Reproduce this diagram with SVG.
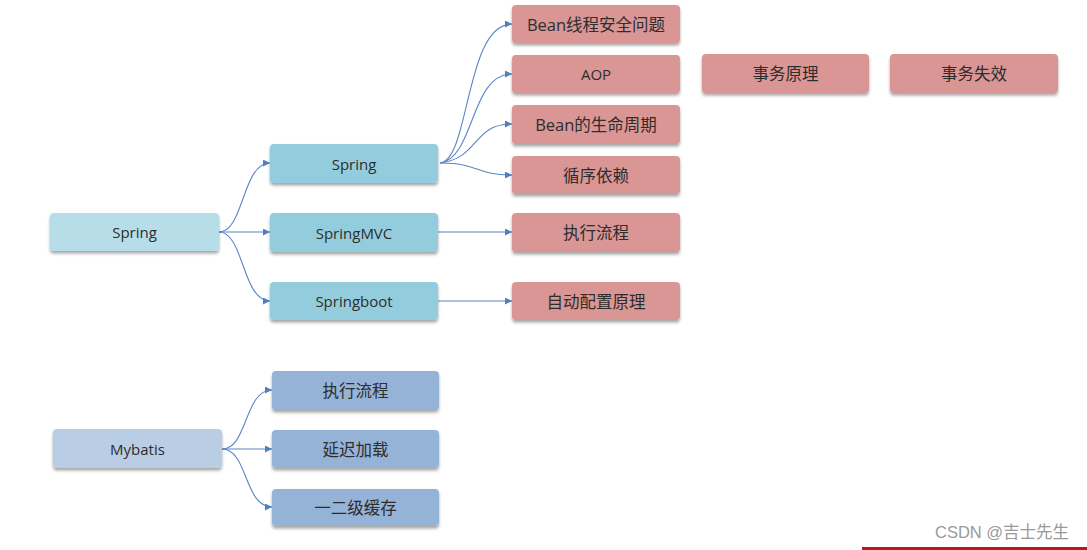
<svg xmlns="http://www.w3.org/2000/svg" width="1087" height="550" viewBox="0 0 1087 550">
  <defs>
    <filter id="sh" x="-10%" y="-20%" width="120%" height="160%">
      <feDropShadow dx="0" dy="2.5" stdDeviation="1.6" flood-color="#000" flood-opacity="0.35"/>
    </filter>
    <marker id="arr" viewBox="0 0 10 10" refX="10" refY="5" markerWidth="7" markerHeight="7" markerUnits="userSpaceOnUse" orient="auto">
      <path d="M0,0 L10,5 L0,10 z" fill="#4f7fc0"/>
    </marker>
  </defs>
  <style>
    .box { filter: url(#sh); }
    .root { fill: #b7dee8; }
    .mid { fill: #93cddd; }
    .red { fill: #da9694; }
    .mroot { fill: #b9cde5; }
    .mb { fill: #95b3d7; }
    text { font-family: "Open Sans", "Noto Sans CJK SC", sans-serif; font-size: 15px; text-anchor: middle; dominant-baseline: central; fill: #2d2d2d; }
    .zh { font-size: 16.5px; }
    .conn path { fill: none; stroke: #5a86c4; stroke-width: 1.1; marker-end: url(#arr); }
    .wm { font-family: "Liberation Sans", "Noto Sans CJK SC", sans-serif; font-size: 16.5px; fill: #9a9a9a; text-anchor: start; }
  </style>
  <rect width="1087" height="550" fill="#ffffff"/>

  <g id="connectors" class="conn">
    <path d="M219,232 C244,232 242,163 270,163"/>
    <path d="M219,232 L270,232"/>
    <path d="M219,232 C244,232 242,301 270,301"/>
    <path d="M440,163 C470,160 465,24 512,24"/>
    <path d="M440,163 C475,158 470,74 512,74"/>
    <path d="M440,163 C480,158 472,124 512,124"/>
    <path d="M440,163 C480,163 475,175 512,175"/>
    <path d="M438,232 L512,232"/>
    <path d="M438,301 L512,301"/>
    <path d="M222,449 C248,449 244,390 272,390"/>
    <path d="M222,449 L272,449"/>
    <path d="M222,449 C248,449 244,507 272,507"/>
  </g>

  <g id="spring-root"><rect class="box root" x="50" y="213" width="169" height="38" rx="4"/><text x="134.5" y="232">Spring</text></g>
  <g id="spring"><rect class="box mid" x="270" y="144" width="168" height="39" rx="4"/><text x="354" y="163.5">Spring</text></g>
  <g id="springmvc"><rect class="box mid" x="270" y="213" width="168" height="39" rx="4"/><text x="354" y="232.5">SpringMVC</text></g>
  <g id="springboot"><rect class="box mid" x="270" y="282" width="168" height="38" rx="4"/><text x="354" y="301">Springboot</text></g>

  <g id="bean-thread"><rect class="box red" x="512" y="5" width="168" height="38" rx="4"/><text class="zh" x="596" y="24">Bean线程安全问题</text></g>
  <g id="aop"><rect class="box red" x="512" y="55" width="168" height="38" rx="4"/><text x="596" y="74">AOP</text></g>
  <g id="tx-principle"><rect class="box red" x="702" y="54" width="167" height="39" rx="4"/><text class="zh" x="785.5" y="73.5">事务原理</text></g>
  <g id="tx-fail"><rect class="box red" x="890" y="54" width="168" height="39" rx="4"/><text class="zh" x="974" y="73.5">事务失效</text></g>
  <g id="bean-life"><rect class="box red" x="512" y="105" width="168" height="39" rx="4"/><text class="zh" x="596" y="124.5">Bean的生命周期</text></g>
  <g id="circular"><rect class="box red" x="512" y="156" width="168" height="38" rx="4"/><text class="zh" x="596" y="175">循序依赖</text></g>
  <g id="mvc-flow"><rect class="box red" x="512" y="213" width="168" height="39" rx="4"/><text class="zh" x="596" y="232.5">执行流程</text></g>
  <g id="autoconfig"><rect class="box red" x="512" y="282" width="168" height="38" rx="4"/><text class="zh" x="596" y="301">自动配置原理</text></g>

  <g id="mybatis"><rect class="box mroot" x="53" y="429" width="169" height="39" rx="4"/><text x="137.5" y="448.5">Mybatis</text></g>
  <g id="mb-flow"><rect class="box mb" x="272" y="371" width="167" height="39" rx="4"/><text class="zh" x="355.5" y="390.5">执行流程</text></g>
  <g id="mb-lazy"><rect class="box mb" x="272" y="430" width="167" height="38" rx="4"/><text class="zh" x="355.5" y="449">延迟加载</text></g>
  <g id="mb-cache"><rect class="box mb" x="272" y="489" width="167" height="37" rx="4"/><text class="zh" x="355.5" y="507.5">一二级缓存</text></g>

  <g id="watermark">
    <text class="wm" x="935" y="532">CSDN @吉士先生</text>
    <rect x="862" y="547" width="225" height="3" fill="#c0141c"/>
  </g>
</svg>
